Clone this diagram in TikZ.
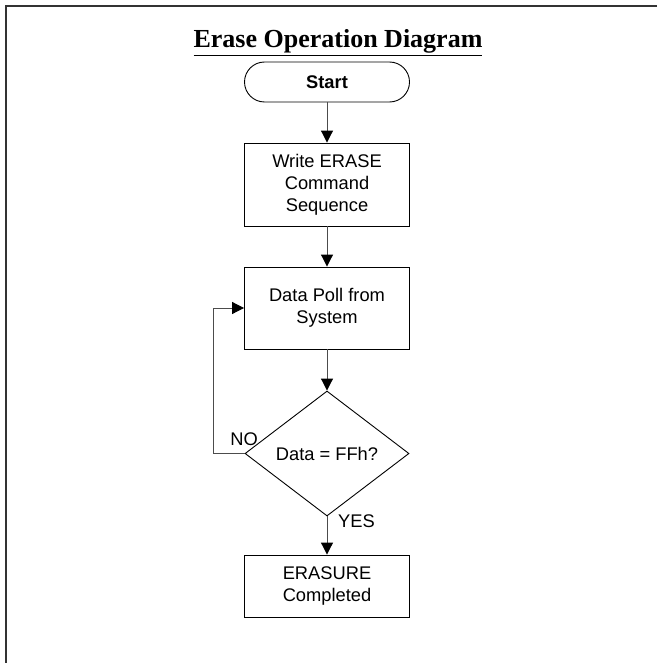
\documentclass[tikz,border=0pt]{standalone}
\usepackage{fontspec}
\setmainfont{Liberation Sans}
\newfontfamily\titlefont{Liberation Serif}
\usetikzlibrary{arrows.meta,shapes.geometric}
\begin{document}
\begin{tikzpicture}[x=1pt,y=1pt,
  boxstyle/.style={draw=black,line width=0.9pt,minimum width=165pt,inner sep=0pt,align=center,
    font=\fontsize{18.3}{22}\selectfont},
  conn/.style={draw=black!70,line width=1pt,-{Triangle[width=12pt,length=12pt,color=black]}},
  lbl/.style={font=\fontsize{18.3}{22}\selectfont,inner sep=0pt}]
\useasboundingbox (0,0) rectangle (657,-663);
\draw[line width=1.6pt,black!80] (657,-6) -- (6,-6) -- (6,-663);
\node[anchor=base,inner sep=0pt,font=\titlefont\bfseries\fontsize{26}{30}\selectfont] (title) at (338,-48) {\underline{Erase Operation Diagram}};
\node[boxstyle,minimum height=40pt,rounded corners=20pt,font=\bfseries\fontsize{18.3}{22}\selectfont] (start) at (327,-82) {Start};
\node[boxstyle,minimum height=83pt] (write) at (327,-184.5) {Write ERASE\\Command\\Sequence};
\node[boxstyle,minimum height=82pt] (poll) at (327,-308) {Data Poll from\\System};
\node[draw=black,line width=0.9pt,diamond,minimum width=164pt,minimum height=125pt,inner sep=0pt,font=\fontsize{18.3}{22}\selectfont] (dec) at (327,-453.5) {Data = FFh?};
\node[boxstyle,minimum height=62pt] (done) at (327,-586) {ERASURE\\Completed};
\node[lbl,anchor=east] (no) at (258,-439) {NO};
\node[lbl,anchor=west] (yes) at (338,-521) {YES};
\coordinate (loopc) at (213,-453.5);
\draw[conn] (start) -- (write);
\draw[conn] (write) -- (poll);
\draw[conn] (poll) -- (dec);
\draw[conn] (dec) -- (done);
\draw[conn] (dec.west) -- (loopc) |- (poll.west);
\end{tikzpicture}
\end{document}
